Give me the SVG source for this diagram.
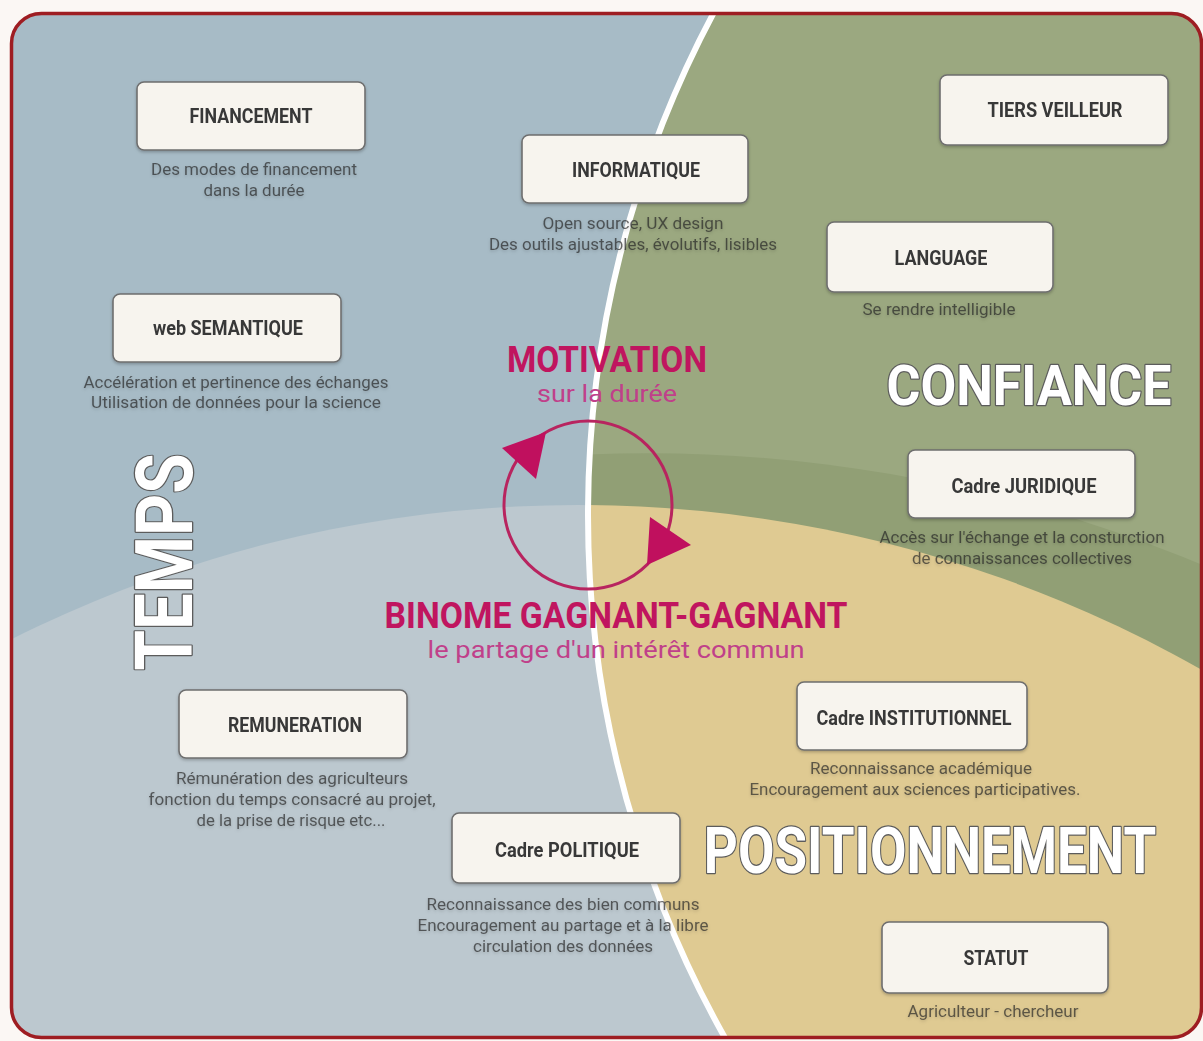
<svg xmlns="http://www.w3.org/2000/svg" width="1203" height="1041" viewBox="0 0 1203 1041">
<defs>
<style>
.box{fill:#f7f4ee;stroke:#6e6e6e;stroke-width:1.6}
.lbl{font-family:Roboto,"Liberation Sans",sans-serif;font-weight:700;font-size:21px;fill:#383838;text-anchor:middle}
.desc{font-family:Roboto,"Liberation Sans",sans-serif;font-size:16px;fill:#262626;fill-opacity:0.68;text-anchor:middle}
.big{font-family:Roboto,"Liberation Sans",sans-serif;font-weight:700;fill:#ffffff;stroke:#5c5c5c;stroke-width:2.6;paint-order:stroke;stroke-linejoin:round;text-anchor:middle}
.mag{font-family:Roboto,"Liberation Sans",sans-serif;font-weight:700;font-size:37px;fill:#c0155f;text-anchor:middle}
.magl{font-family:Roboto,"Liberation Sans",sans-serif;font-size:24px;fill:#c0408a;text-anchor:middle}
</style>
<clipPath id="outer"><rect x="11.5" y="13.5" width="1190" height="1024" rx="30"/></clipPath>
<clipPath id="right"><circle cx="1653" cy="515" r="1065"/></clipPath>
<filter id="sh" x="-10%" y="-20%" width="120%" height="150%"><feDropShadow dx="0" dy="1.5" stdDeviation="1.5" flood-color="#000" flood-opacity="0.25"/></filter>
</defs>
<rect width="1203" height="1041" fill="#fbf7f4"/>
<g clip-path="url(#outer)">
<rect x="0" y="0" width="1203" height="1041" fill="#a7bbc6"/>
<circle cx="578" cy="1768" r="1263" fill="#bcc8cf"/>
<g clip-path="url(#right)">
<rect x="0" y="0" width="1203" height="1041" fill="#9ba880"/>
<path d="M560 456 C780 442 1000 480 1210 568 L1210 1041 L560 1041 Z" fill="#919f75"/>
<circle cx="578" cy="1768" r="1263" fill="#dfca92"/>
</g>
<circle cx="1653" cy="515" r="1065" fill="none" stroke="#ffffff" stroke-width="6"/>
</g>
<rect x="11.5" y="13.5" width="1190" height="1024" rx="30" fill="none" stroke="#9e1d22" stroke-width="3.5"/>

<g id="label-temps"><text class="big" font-size="80" transform="translate(192,562) rotate(-90)" textLength="217" lengthAdjust="spacingAndGlyphs">TEMPS</text></g>
<g id="label-confiance"><text class="big" x="1029" y="405" font-size="56" textLength="285" lengthAdjust="spacingAndGlyphs">CONFIANCE</text></g>
<g id="label-positionnement"><text class="big" transform="translate(930,873) scale(0.83,1)" font-size="64" textLength="545" lengthAdjust="spacingAndGlyphs">POSITIONNEMENT</text></g>

<g id="connectors">
<circle cx="588" cy="505" r="84" fill="none" stroke="#b8245f" stroke-width="3"/>
<polygon points="502,448 546,432 536,479" fill="#c0105e"/>
<polygon points="650,517 691,545 647,565" fill="#c0105e"/>
</g>

<g id="motivation">
<text class="mag" x="607" y="372" textLength="200" lengthAdjust="spacingAndGlyphs">MOTIVATION</text>
<text class="magl" x="607" y="402" textLength="140" lengthAdjust="spacingAndGlyphs">sur la durée</text>
</g>
<g id="binome">
<text class="mag" x="616" y="628" textLength="463" lengthAdjust="spacingAndGlyphs">BINOME GAGNANT-GAGNANT</text>
<text class="magl" x="616" y="658" textLength="377" lengthAdjust="spacingAndGlyphs">le partage d'un intérêt commun</text>
</g>

<g id="node-financement" filter="url(#sh)">
<rect class="box" x="137" y="82" width="228" height="68" rx="7"/>
<text class="lbl" x="251" y="123" textLength="123" lengthAdjust="spacingAndGlyphs">FINANCEMENT</text>
<text class="desc" x="254" y="175" textLength="206" lengthAdjust="spacingAndGlyphs">Des modes de financement</text>
<text class="desc" x="254" y="196" textLength="101" lengthAdjust="spacingAndGlyphs">dans la durée</text>
</g>
<g id="node-informatique" filter="url(#sh)">
<rect class="box" x="522" y="135" width="226" height="68" rx="7"/>
<text class="lbl" x="636" y="177" textLength="128" lengthAdjust="spacingAndGlyphs">INFORMATIQUE</text>
<text class="desc" x="633" y="229" textLength="181" lengthAdjust="spacingAndGlyphs">Open source, UX design</text>
<text class="desc" x="633" y="250" textLength="288" lengthAdjust="spacingAndGlyphs">Des outils ajustables, évolutifs, lisibles</text>
</g>
<g id="node-tiers-veilleur" filter="url(#sh)">
<rect class="box" x="940" y="75" width="228" height="70" rx="7"/>
<text class="lbl" x="1055" y="117" textLength="135" lengthAdjust="spacingAndGlyphs">TIERS VEILLEUR</text>
</g>
<g id="node-language" filter="url(#sh)">
<rect class="box" x="827" y="222" width="226" height="70" rx="7"/>
<text class="lbl" x="941" y="265" textLength="93" lengthAdjust="spacingAndGlyphs">LANGUAGE</text>
<text class="desc" x="939" y="315" textLength="153" lengthAdjust="spacingAndGlyphs">Se rendre intelligible</text>
</g>
<g id="node-web-semantique" filter="url(#sh)">
<rect class="box" x="113" y="294" width="228" height="68" rx="7"/>
<text class="lbl" x="228" y="335" textLength="150" lengthAdjust="spacingAndGlyphs">web SEMANTIQUE</text>
<text class="desc" x="236" y="388" textLength="305" lengthAdjust="spacingAndGlyphs">Accélération et pertinence des échanges</text>
<text class="desc" x="236" y="408" textLength="290" lengthAdjust="spacingAndGlyphs">Utilisation de données pour la science</text>
</g>
<g id="node-cadre-juridique" filter="url(#sh)">
<rect class="box" x="908" y="450" width="227" height="68" rx="7"/>
<text class="lbl" x="1024" y="493" textLength="145" lengthAdjust="spacingAndGlyphs">Cadre JURIDIQUE</text>
<text class="desc" x="1022" y="543" textLength="285" lengthAdjust="spacingAndGlyphs">Accès sur l'échange et la consturction</text>
<text class="desc" x="1022" y="564" textLength="220" lengthAdjust="spacingAndGlyphs">de connaissances collectives</text>
</g>
<g id="node-remuneration" filter="url(#sh)">
<rect class="box" x="179" y="690" width="228" height="68" rx="7"/>
<text class="lbl" x="295" y="732" textLength="134" lengthAdjust="spacingAndGlyphs">REMUNERATION</text>
<text class="desc" x="292" y="784" textLength="232" lengthAdjust="spacingAndGlyphs">Rémunération des agriculteurs</text>
<text class="desc" x="292" y="805" textLength="287" lengthAdjust="spacingAndGlyphs">fonction du temps consacré au projet,</text>
<text class="desc" x="291" y="826" textLength="189" lengthAdjust="spacingAndGlyphs">de la prise de risque etc...</text>
</g>
<g id="node-cadre-politique" filter="url(#sh)">
<rect class="box" x="452" y="813" width="228" height="70" rx="7"/>
<text class="lbl" x="567" y="857" textLength="144" lengthAdjust="spacingAndGlyphs">Cadre POLITIQUE</text>
<text class="desc" x="563" y="910" textLength="273" lengthAdjust="spacingAndGlyphs">Reconnaissance des bien communs</text>
<text class="desc" x="563" y="931" textLength="291" lengthAdjust="spacingAndGlyphs">Encouragement au partage et à la libre</text>
<text class="desc" x="563" y="952" textLength="180" lengthAdjust="spacingAndGlyphs">circulation des données</text>
</g>
<g id="node-cadre-institutionnel" filter="url(#sh)">
<rect class="box" x="797" y="682" width="230" height="68" rx="7"/>
<text class="lbl" x="914" y="725" textLength="195" lengthAdjust="spacingAndGlyphs">Cadre INSTITUTIONNEL</text>
<text class="desc" x="921" y="774" textLength="222" lengthAdjust="spacingAndGlyphs">Reconnaissance académique</text>
<text class="desc" x="915" y="795" textLength="331" lengthAdjust="spacingAndGlyphs">Encouragement aux sciences participatives.</text>
</g>
<g id="node-statut" filter="url(#sh)">
<rect class="box" x="882" y="922" width="226" height="71" rx="7"/>
<text class="lbl" x="996" y="965" textLength="65" lengthAdjust="spacingAndGlyphs">STATUT</text>
<text class="desc" x="993" y="1017" textLength="171" lengthAdjust="spacingAndGlyphs">Agriculteur - chercheur</text>
</g>
</svg>
